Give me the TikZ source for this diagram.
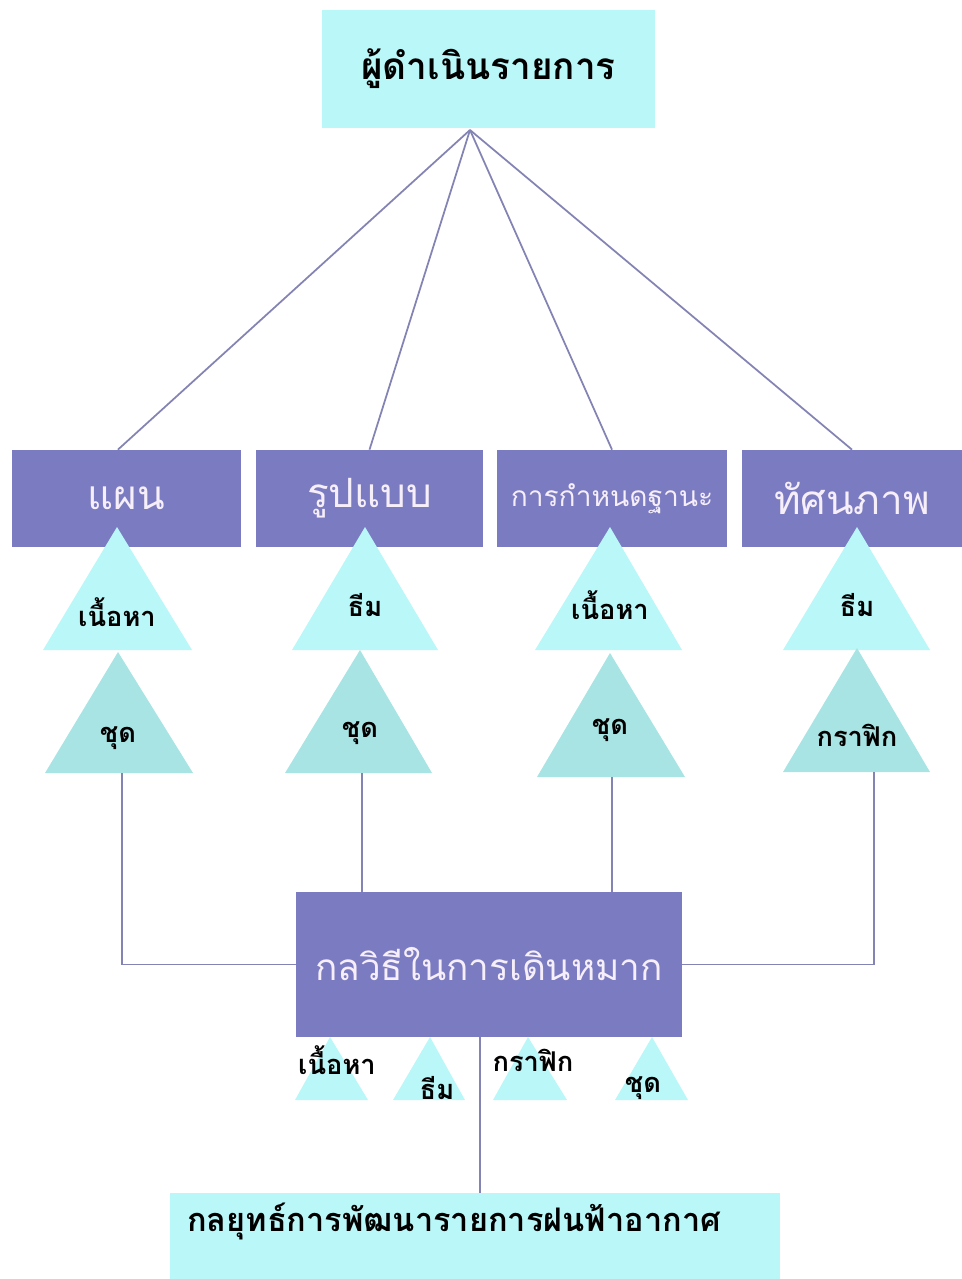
\documentclass[tikz,border=0pt]{standalone}
\usepackage{fontspec}
\newfontfamily\thaifont[Script=Thai]{Loma}
\usepackage{tikz}
\usetikzlibrary{calc}
\definecolor{boxviolet}{HTML}{7B7BC2}
\definecolor{paleaqua}{HTML}{B9F7F8}
\definecolor{deepaqua}{HTML}{A8E4E4}
\definecolor{linkgray}{HTML}{8484B4}
\definecolor{softwhite}{HTML}{F6EEF8}

\begin{document}
\begin{tikzpicture}[x=0.02cm, y=-0.02cm, link/.style={draw=linkgray, line width=1pt}, head box/.style={fill=paleaqua, inner sep=0pt, minimum width=6.66cm, minimum height=2.36cm, font=\thaifont\bfseries\fontsize{21}{24}\selectfont}, topic box/.style={fill=boxviolet, inner sep=0pt, minimum height=1.94cm, text=softwhite, font=\thaifont\fontsize{23}{26}\selectfont}, upper tri/.style={fill=paleaqua}, lower tri/.style={fill=deepaqua}, tri label/.style={inner sep=0pt, font=\thaifont\bfseries\fontsize{15.5}{18}\selectfont}]
\useasboundingbox (0,0) rectangle (962,1279);
\node[head box] (host) at (488.5,69) {ผู้ดำเนินรายการ};
\coordinate (hub) at (470,130);
\node[topic box, minimum width=4.58cm] (plan) at (126.5,498.5) {แผน};
\node[topic box, minimum width=4.54cm] (form) at (369.5,498.5) {รูปแบบ};
\node[topic box, minimum width=4.6cm, font=\thaifont\fontsize{16}{19}\selectfont] (rank) at (612,498.5) {การกำหนดฐานะ};
\node[topic box, minimum width=4.4cm] (view) at (852,498.5) {ทัศนภาพ};
\node[topic box, minimum width=7.72cm, minimum height=2.9cm, font=\thaifont\fontsize{21}{25}\selectfont] (tactic) at (489,964.5) {กลวิธีในการเดินหมาก};
\node[fill=paleaqua, inner sep=0pt, minimum width=12.2cm, minimum height=1.72cm] (goal) at (475,1236) {};
\node[inner sep=0pt, font=\thaifont\bfseries\fontsize{18.5}{22}\selectfont] (goaltext) at (454,1221) {กลยุทธ์การพัฒนารายการฝนฟ้าอากาศ};
\fill[upper tri] (117,527) -- (43,650) -- (192,650) -- cycle;
\fill[upper tri] (365,527) -- (292,650) -- (438,650) -- cycle;
\fill[upper tri] (610,527) -- (535,650) -- (682,650) -- cycle;
\fill[upper tri] (857,527) -- (783,650) -- (930,650) -- cycle;
\fill[lower tri] (118,652) -- (45,773) -- (193,773) -- cycle;
\fill[lower tri] (360,650) -- (285,773) -- (432,773) -- cycle;
\fill[lower tri] (610,653) -- (537,777) -- (685,777) -- cycle;
\fill[lower tri] (857,648) -- (783,772) -- (930,772) -- cycle;
\fill[upper tri] (330,1037) -- (295,1100) -- (368,1100) -- cycle;
\fill[upper tri] (430,1037) -- (393,1100) -- (465,1100) -- cycle;
\fill[upper tri] (528,1037) -- (493,1100) -- (567,1100) -- cycle;
\fill[upper tri] (652,1037) -- (615,1100) -- (688,1100) -- cycle;
\node[tri label] (plantop) at (117,612) {เนื้อหา};
\node[tri label] (formtop) at (365,605) {ธีม};
\node[tri label] (ranktop) at (610,605) {เนื้อหา};
\node[tri label] (viewtop) at (857,605) {ธีม};
\node[tri label] (planlow) at (118,738) {ชุด};
\node[tri label] (formlow) at (360,733) {ชุด};
\node[tri label] (ranklow) at (610,730) {ชุด};
\node[tri label] (viewlow) at (857,735) {กราฟิก};
\node[tri label] (subone) at (337,1060) {เนื้อหา};
\node[tri label] (subtwo) at (437,1088) {ธีม};
\node[tri label] (subthree) at (533,1060) {กราฟิก};
\node[tri label] (subfour) at (643,1088) {ชุด};
\coordinate (c1) at (122,773);
\coordinate (c2) at (362,773);
\coordinate (c3) at (612,777);
\coordinate (c4) at (874,772);
\coordinate (down) at (480,1037);
\path[link]
(hub) edge (plan.100)
(hub) edge (form.north)
(hub) edge (rank.north)
(hub) edge (view.north)
(c2) edge (c2 |- tactic.north)
(c3) edge (c3 |- tactic.north)
(down) edge (down |- goal.north);
\draw[link] (tactic.west) -| (c1);
\draw[link] (tactic.east) -| (c4);
\end{tikzpicture}
\end{document}
